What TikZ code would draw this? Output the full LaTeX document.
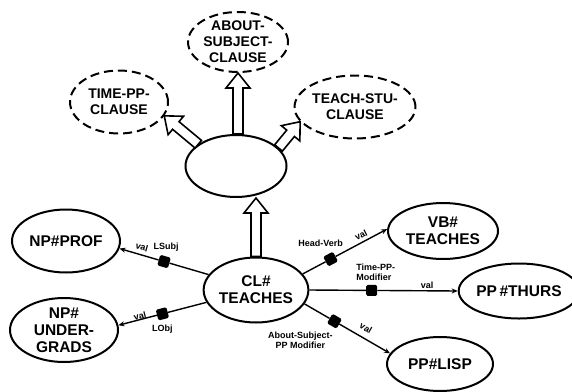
\documentclass[tikz,border=0pt]{standalone}
\usepackage{fontspec}
\setmainfont{Liberation Sans}
\usetikzlibrary{shapes.geometric,arrows.meta,calc}
\begin{document}
\begin{tikzpicture}[x=1pt,y=-1pt,
  concept/.style={ellipse, draw, line width=2pt, inner sep=0pt, align=center,
    font=\bfseries\fontsize{15.5}{17}\selectfont},
  frame/.style={concept, dash pattern=on 9pt off 5pt,
    font=\bfseries\fontsize{14}{16}\selectfont},
  link/.style={line width=1.4pt},
  linkto/.style={link, -{Stealth[length=6pt,width=5pt]}},
  slot/.style={rectangle, fill, rounded corners=1.5pt, minimum size=11pt, inner sep=0pt, sloped},
  lbl/.style={font=\bfseries\fontsize{9}{10}\selectfont, inner sep=0.5pt, align=center},
  % open block arrow: shaft of half-width 5pt, head 15pt long and 24pt wide
  hollowarrow/.style={draw, fill=white, line width=1.6pt, line join=miter,
    to path={
      let \p1=(\tikztostart), \p2=(\tikztotarget),
          \n1={atan2(\y2-\y1,\x2-\x1)}, \n2={veclen(\x2-\x1,\y2-\y1)-15pt} in
      ($(\p1)+(\n1+90:5pt)$) -- ($(\p1)+(\n1:\n2)+(\n1+90:5pt)$)
      -- ($(\p1)+(\n1:\n2)+(\n1+90:12pt)$) -- (\p2)
      -- ($(\p1)+(\n1:\n2)+(\n1-90:12pt)$)
      -- ($(\p1)+(\n1:\n2)+(\n1-90:5pt)$)
      -- ($(\p1)+(\n1-90:5pt)$) -- cycle}}
]
\useasboundingbox[fill=white] (0,0) rectangle (572,391);

% clause frames
\node[frame, minimum width=100pt, minimum height=60pt] (about) at (238,42)
  {ABOUT-\\SUBJECT-\\CLAUSE};
\node[frame, minimum width=98pt, minimum height=63pt] (time) at (119,102)
  {TIME-PP-\\CLAUSE};
\node[frame, minimum width=101pt, minimum height=63pt] (stu) at (355,107)
  {TEACH-STU-\\CLAUSE};
\node[concept, minimum width=101pt, minimum height=62pt] (blank) at (236,166) {};

% concept nodes
\node[concept, minimum width=104pt, minimum height=65pt] (cl) at (256,290) {CL\#\\TEACHES};
\node[concept, minimum width=108pt, minimum height=63pt] (prof) at (66,241) {NP\#PROF};
\node[concept, minimum width=108pt, minimum height=64pt] (under) at (64,330)
  {NP\#\\UNDER-\\GRADS};
\node[concept, minimum width=110pt, minimum height=56pt] (vb) at (443,231) {VB\#\\TEACHES};
\node[concept, minimum width=104pt, minimum height=55pt] (thurs) at (519,291) {PP\,\#THURS};
\node[concept, minimum width=106pt, minimum height=54pt] (lisp) at (440,364) {PP\#LISP};

% specialisation arrows
\draw[hollowarrow] (blank.north -| about.south) to (about.south);
\draw[hollowarrow] (blank.150) to (time.343);
\draw[hollowarrow] (blank.23) to (stu.195);
\draw[hollowarrow] (cl.north) to (cl.north |- blank.south);

% role slots
\path (cl.162) -- (prof.352) node[slot, pos=.5] (s1) {};
\path (cl.194) -- (under.5) node[slot, pos=.5] (s2) {};
\path (cl.19) -- (vb.178) node[slot, pos=.33] (s3) {};
\path (cl.east) -- (thurs.west) node[slot, pos=.42] (s4) {};
\path (cl.344) -- (lisp.168) node[slot, pos=.35] (s5) {};

\draw[link] (cl.162) -- (s1);  \draw[linkto] (s1) -- (prof.352);
\draw[link] (cl.194) -- (s2);  \draw[linkto] (s2) -- (under.5);
\draw[link] (cl.19) -- (s3);   \draw[linkto] (s3) -- (vb.178);
\draw[link] (cl.east) -- (s4); \draw[linkto] (s4) -- (thurs.west);
\draw[link] (cl.344) -- (s5);  \draw[linkto] (s5) -- (lisp.168);

% role and value labels
\node[lbl] (lsubj) at ($(s1)+(2,-14)$) {LSubj};
\node[lbl] (lobj) at ($(s2)+(0,15)$) {LObj};
\node[lbl] (head) at ($(s3)+(-10,-16)$) {Head-Verb};
\node[lbl, align=left] (tmod) at ($(s4)+(4,-18)$) {Time-PP-\\Modifier};
\node[lbl] (amod) at ($(s5)+(-34,19)$) {About-Subject-\\PP Modifier};

\node[lbl, rotate=-16] (v1) at (142,247) {val};
\node[lbl, rotate=14] (v2) at (140,316) {val};
\node[lbl, rotate=27] (v3) at (361,235) {val};
\node[lbl] (v4) at (427,285) {val};
\node[lbl, rotate=-30] (v5) at (366,328) {val};
\end{tikzpicture}
\end{document}
